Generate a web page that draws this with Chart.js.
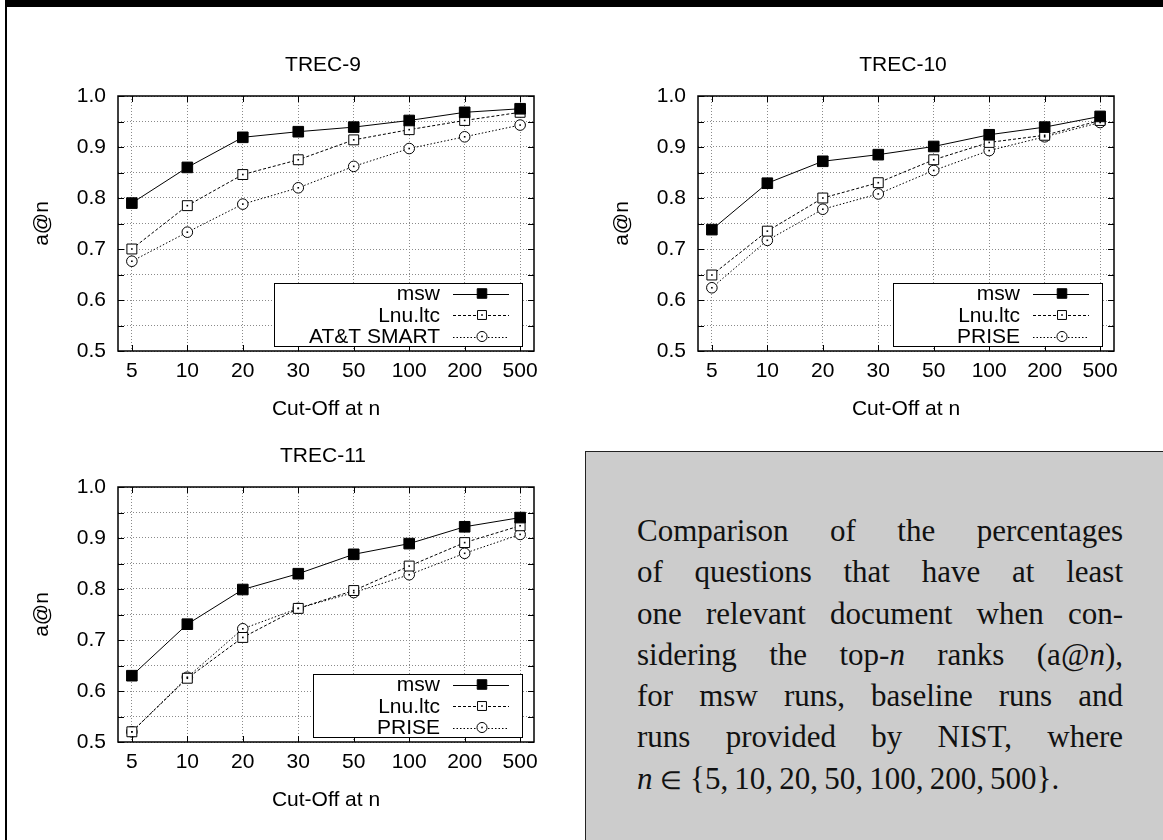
<!DOCTYPE html>
<html>
<head>
<meta charset="utf-8">
<script src="https://cdn.jsdelivr.net/npm/chart.js@4"></script>
<style>
html,body{margin:0;padding:0;background:#fff;}
body{width:1163px;height:840px;overflow:hidden;position:relative;}
#topbar{position:absolute;left:5px;top:0;width:1158px;height:7px;background:#000;}
#leftbar{position:absolute;left:5px;top:0;width:2px;height:840px;background:#000;}
canvas{position:absolute;}
#cap{position:absolute;left:585px;top:451px;width:578px;height:389px;background:#cccccc;border-left:1px solid #222;border-top:1px solid #222;box-sizing:border-box;}
#captext{position:absolute;left:637px;top:510px;width:486px;font-family:"Liberation Serif","Times New Roman",serif;font-size:31px;line-height:41.3px;color:#111;}
#captext div{text-align:justify;text-align-last:justify;}
#captext div.last{text-align:left;text-align-last:left;}
#captext .in{font-size:25px;}
</style>
</head>
<body>
<div id="topbar"></div>
<div id="leftbar"></div>
<canvas id="c9" width="560" height="390" style="left:0px;top:40px;width:560px;height:390px"></canvas>
<canvas id="c10" width="560" height="390" style="left:580px;top:40px;width:560px;height:390px"></canvas>
<canvas id="c11" width="560" height="390" style="left:0px;top:431px;width:560px;height:390px"></canvas>
<div id="cap"></div>
<div id="captext">
<div>Comparison of the percentages</div>
<div>of questions that have at least</div>
<div>one relevant document when con-</div>
<div>sidering the top-<i>n</i> ranks (a@<i>n</i>),</div>
<div>for msw runs, baseline runs and</div>
<div>runs provided by NIST, where</div>
<div class="last"><i>n</i> <span class="in">∈</span> {5,&thinsp;10,&thinsp;20,&thinsp;50,&thinsp;100,&thinsp;200,&thinsp;500}.</div>
</div>
<script>
// ---- data ----
const cutoffs = ['5', '10', '20', '30', '50', '100', '200', '500'];
const yTicks = [0.5, 0.55, 0.6, 0.65, 0.7, 0.75, 0.8, 0.85, 0.9, 0.95, 1.0];

const trec9Msw   = [0.790, 0.860, 0.919, 0.930, 0.939, 0.952, 0.968, 0.975];
const trec9Lnu   = [0.700, 0.785, 0.846, 0.875, 0.914, 0.934, 0.952, 0.968];
const trec9Smart = [0.676, 0.733, 0.788, 0.820, 0.862, 0.897, 0.920, 0.943];

const trec10Msw   = [0.738, 0.829, 0.872, 0.885, 0.901, 0.924, 0.939, 0.960];
const trec10Lnu   = [0.649, 0.735, 0.800, 0.830, 0.875, 0.909, 0.923, 0.952];
const trec10Prise = [0.624, 0.717, 0.778, 0.808, 0.854, 0.893, 0.920, 0.948];

const trec11Msw   = [0.630, 0.731, 0.799, 0.830, 0.868, 0.889, 0.922, 0.940];
const trec11Lnu   = [0.520, 0.625, 0.705, 0.762, 0.797, 0.845, 0.891, 0.924];
const trec11Prise = [0.520, 0.627, 0.722, 0.762, 0.793, 0.828, 0.870, 0.907];

// ---- styles ----
const FONT = {family: '"Liberation Sans", Arial, sans-serif', size: 21};
const STYLES = {
  solidSquare: {borderDash: [], pointStyle: 'rect', pointRadius: 7.5, pointBackgroundColor: '#000', centerDot: false},
  openSquare:  {borderDash: [3, 2], pointStyle: 'rect', pointRadius: 7, pointBackgroundColor: '#fff', centerDot: true},
  openCircle:  {borderDash: [1.5, 2], pointStyle: 'circle', pointRadius: 5.3, pointBackgroundColor: '#fff', centerDot: true}
};

const framePlugin = {
  id: 'frame',
  afterDatasetsDraw(chart) {
    const ctx = chart.ctx;
    // center dots in open markers
    chart.data.datasets.forEach((ds, i) => {
      if (!ds.centerDot) return;
      const meta = chart.getDatasetMeta(i);
      ctx.save();
      ctx.fillStyle = '#000';
      meta.data.forEach(pt => { ctx.fillRect(pt.x - 0.8, pt.y - 0.8, 1.6, 1.6); });
      ctx.restore();
    });
    const a = chart.chartArea;
    const xs = chart.scales.x, ys = chart.scales.y;
    ctx.save();
    ctx.strokeStyle = '#000';
    ctx.lineWidth = 1;
    ctx.beginPath();
    yTicks.forEach(v => {
      const y = Math.round(ys.getPixelForValue(v)) + 0.5;
      ctx.moveTo(a.left, y); ctx.lineTo(a.left + 6, y);
      ctx.moveTo(a.right, y); ctx.lineTo(a.right - 6, y);
    });
    cutoffs.forEach((c, i) => {
      const x = Math.round(xs.getPixelForValue(i)) + 0.5;
      ctx.moveTo(x, a.bottom); ctx.lineTo(x, a.bottom - 6);
      ctx.moveTo(x, a.top); ctx.lineTo(x, a.top + 6);
    });
    ctx.stroke();
    ctx.lineWidth = 1.5;
    ctx.strokeRect(a.left, a.top, a.right - a.left, a.bottom - a.top);
    ctx.restore();

    // legend box
    const lo = chart.options.plugins.boxLegend;
    const right = a.right - 12, bottom = a.bottom - 5;
    const left = right - lo.width, top = bottom - 63;
    ctx.save();
    ctx.fillStyle = '#fff';
    ctx.fillRect(left, top, lo.width, 63);
    ctx.strokeStyle = '#000';
    ctx.lineWidth = 1;
    ctx.strokeRect(Math.round(left) + 0.5, Math.round(top) + 0.5, lo.width, 63);
    ctx.font = FONT.size + 'px ' + FONT.family;
    ctx.textAlign = 'right';
    ctx.textBaseline = 'middle';
    chart.data.datasets.forEach((ds, i) => {
      const cy = top + 10.5 + i * 21.5;
      ctx.fillStyle = '#000';
      ctx.fillText(ds.label, right - 82, cy + 1);
      ctx.beginPath();
      ctx.setLineDash(ds.borderDash);
      ctx.lineWidth = 1;
      ctx.moveTo(right - 69, Math.round(cy) + 0.5);
      ctx.lineTo(right - 13, Math.round(cy) + 0.5);
      ctx.stroke();
      ctx.setLineDash([]);
      const mx = right - 40;
      ctx.fillStyle = ds.pointBackgroundColor;
      ctx.beginPath();
      if (ds.pointStyle === 'rect') {
        const h = ds.pointRadius * Math.SQRT1_2 * 0.9;
        ctx.rect(mx - h, cy - h, 2 * h, 2 * h);
      } else {
        ctx.arc(mx, cy, ds.pointRadius * 0.95, 0, Math.PI * 2);
      }
      ctx.fill();
      ctx.stroke();
      if (ds.centerDot) { ctx.fillStyle = '#000'; ctx.fillRect(mx - 0.8, cy - 0.8, 1.6, 1.6); }
    });
    ctx.restore();
  },
  afterDraw(chart) {
    const a = chart.chartArea;
    const ctx = chart.ctx;
    ctx.save();
    ctx.font = FONT.size + 'px ' + FONT.family;
    ctx.fillStyle = '#000';
    ctx.textAlign = 'center';
    ctx.textBaseline = 'middle';
    ctx.fillText(chart.options.plugins.panelTitle.text, (a.left + a.right) / 2 - 3, 25);
    ctx.restore();
  }
};

function makeChart(id, title, series, legendWidth) {
  const datasets = series.map(s => Object.assign({
    label: s.label,
    data: s.values.map((v, i) => ({x: i, y: v})),
    borderColor: '#000',
    borderWidth: 1,
    pointBorderColor: '#000',
    pointBorderWidth: 1,
    fill: false,
    tension: 0
  }, STYLES[s.style]));
  return new Chart(document.getElementById(id), {
    type: 'line',
    data: {datasets},
    plugins: [framePlugin],
    options: {
      responsive: false,
      maintainAspectRatio: false,
      animation: false,
      layout: {padding: {top: 56, right: 26, bottom: 8, left: 0}},
      plugins: {
        legend: {display: false},
        title: {display: false},
        tooltip: {enabled: false},
        panelTitle: {text: title},
        boxLegend: {width: legendWidth}
      },
      scales: {
        x: {
          type: 'linear', min: -0.25, max: 7.25,
          afterBuildTicks: s => { s.ticks = cutoffs.map((c, i) => ({value: i})); },
          afterFit: s => { s.height = 71; },
          ticks: {callback: v => cutoffs[v] !== undefined ? cutoffs[v] : '', padding: 8, font: FONT, color: '#000', autoSkip: false, maxRotation: 0},
          grid: {color: '#8a8a8a', lineWidth: 1, drawTicks: false},
          border: {display: false, dash: [1, 2]},
          title: {display: true, text: 'Cut-Off at n', font: FONT, color: '#000', padding: {top: 0, bottom: 0}}
        },
        y: {
          type: 'linear', min: 0.5, max: 1.0,
          afterBuildTicks: s => { s.ticks = yTicks.map(v => ({value: v})); },
          afterFit: s => { s.width = 118; },
          ticks: {callback: v => (Math.round(v * 100) % 10 === 0 ? v.toFixed(1) : ''), padding: 12, font: FONT, color: '#000', autoSkip: false},
          grid: {color: '#8a8a8a', lineWidth: 1, drawTicks: false},
          border: {display: false, dash: [1, 2]},
          title: {display: true, text: 'a@n', font: FONT, color: '#000', padding: {top: 30, bottom: 0}}
        }
      }
    }
  });
}

makeChart('c9', 'TREC-9', [
  {label: 'msw', values: trec9Msw, style: 'solidSquare'},
  {label: 'Lnu.ltc', values: trec9Lnu, style: 'openSquare'},
  {label: 'AT&T SMART', values: trec9Smart, style: 'openCircle'}
], 248);
makeChart('c10', 'TREC-10', [
  {label: 'msw', values: trec10Msw, style: 'solidSquare'},
  {label: 'Lnu.ltc', values: trec10Lnu, style: 'openSquare'},
  {label: 'PRISE', values: trec10Prise, style: 'openCircle'}
], 209);
makeChart('c11', 'TREC-11', [
  {label: 'msw', values: trec11Msw, style: 'solidSquare'},
  {label: 'Lnu.ltc', values: trec11Lnu, style: 'openSquare'},
  {label: 'PRISE', values: trec11Prise, style: 'openCircle'}
], 209);
</script>
</body>
</html>
